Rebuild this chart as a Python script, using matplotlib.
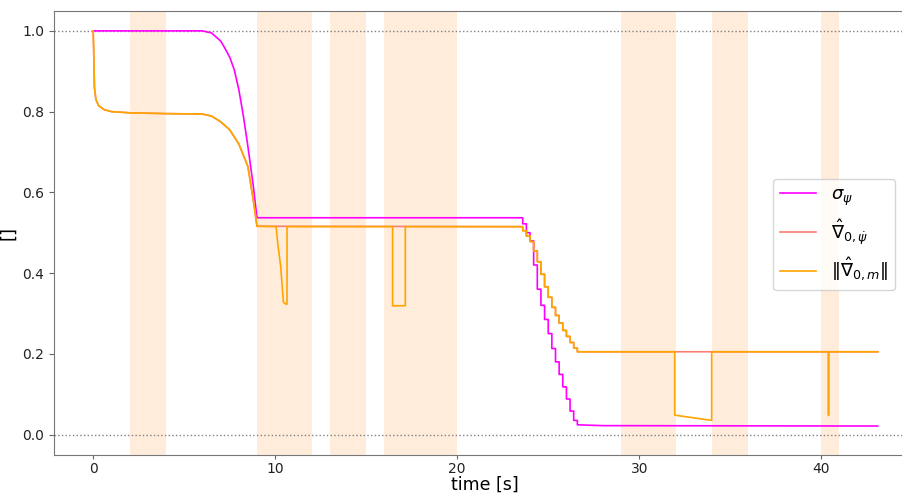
import numpy as np
import matplotlib

matplotlib.use("Agg")
import matplotlib.pyplot as plt

# shaded time windows [s]
spans = [(2, 4), (9, 12), (13, 15), (16, 20), (29, 32), (34, 36), (40, 41)]

# sigma_psi
sig_t = [0.0, 6.0, 6.5, 7.0, 7.2, 7.5, 7.75, 8.0, 8.25, 8.5, 8.8, 9.0, 23.4]
sig_y = [1.0, 1.0, 0.995, 0.975, 0.96, 0.935, 0.904, 0.855, 0.79, 0.714, 0.615, 0.537, 0.537]
# staircase descent, sampled at the step edges
sig_desc_t = [23.4, 23.6, 23.8, 24.0, 24.2, 24.4, 24.6, 24.8, 25.0, 25.2,
              25.4, 25.6, 25.8, 26.0, 26.2, 26.4, 26.6]
sig_desc_y = [0.537, 0.522, 0.50, 0.48, 0.42, 0.36, 0.32, 0.285, 0.25, 0.213,
              0.18, 0.149, 0.118, 0.088, 0.058, 0.035, 0.024]
sig_tail_t = [28.0, 43.1]
sig_tail_y = [0.022, 0.021]

# gradient norm (orange) start
nrm_t = [0.0, 0.03, 0.07, 0.15, 0.3, 0.6, 1.0, 2.0, 4.0, 6.0, 6.5, 7.0,
         7.5, 8.0, 8.5, 8.8, 9.0]
nrm_y = [1.0, 0.95, 0.86, 0.83, 0.815, 0.805, 0.80, 0.797, 0.795, 0.794,
         0.789, 0.775, 0.755, 0.72, 0.664, 0.58, 0.516]
dip1_t = [10.05, 10.15, 10.3, 10.45, 10.6, 10.65, 10.65]
dip1_y = [0.515, 0.47, 0.418, 0.328, 0.323, 0.323, 0.515]
dip2_t = [16.45, 16.45, 17.15, 17.15]
dip2_y = [0.515, 0.319, 0.319, 0.515]
nrm_desc_t = [23.4, 23.6, 23.8, 24.0, 24.2, 24.4, 24.6, 24.8, 25.0, 25.2,
              25.4, 25.6, 25.8, 26.0, 26.2, 26.4, 26.6]
nrm_desc_y = [0.515, 0.505, 0.492, 0.478, 0.455, 0.428, 0.397, 0.366, 0.34, 0.315,
              0.295, 0.276, 0.258, 0.243, 0.228, 0.214, 0.205]
plateau2 = 0.205
dip3_t = [31.95, 31.95, 33.98, 33.98]
dip3_y = [0.205, 0.048, 0.035, 0.205]
dip4_t = [40.38, 40.4, 40.42]
dip4_y = [0.205, 0.047, 0.205]
end_t = 43.1


def stairs(t, y):
    xs, ys = [t[0]], [y[0]]
    for i in range(1, len(t)):
        xs += [t[i], t[i]]
        ys += [y[i - 1], y[i]]
    return xs, ys


sd_t, sd_y = stairs(sig_desc_t, sig_desc_y)
sig_T = sig_t + sd_t + sig_tail_t
sig_Y = sig_y + sd_y + sig_tail_y

nd_t, nd_y = stairs(nrm_desc_t, nrm_desc_y)
# red gradient: same as the norm without the dips
red_T = nrm_t + nd_t + [end_t]
red_Y = nrm_y + nd_y + [plateau2]
org_T = nrm_t + dip1_t + dip2_t + nd_t + dip3_t + dip4_t + [end_t]
org_Y = nrm_y + dip1_y + dip2_y + nd_y + dip3_y + dip4_y + [plateau2]

fig = plt.figure(figsize=(9.02, 4.93), dpi=100)
# right edge of the axes lies beyond the picture (cropped original)
ax = fig.add_axes([0.0599, 0.0777, 0.9545, 0.9006])

for a, b in spans:
    ax.axvspan(a, b, color="peachpuff", alpha=0.5, lw=0)

ax.axhline(1.0, color="gray", ls=":", lw=1)
ax.axhline(0.0, color="gray", ls=":", lw=1)

ax.plot(sig_T, sig_Y, color="magenta", lw=1.2, label=r"$\sigma_\psi$")
ax.plot(red_T, red_Y, color="salmon", lw=1.2, label=r"$\hat{\nabla}_{0,\dot{\psi}}$")
ax.plot(org_T, org_Y, color="orange", lw=1.2, label=r"$\Vert\hat{\nabla}_{0,m}\Vert$")

ax.set_xlim(-2.15, 45.15)
ax.set_ylim(-0.05, 1.05)
ax.set_xticks([0, 10, 20, 30, 40])
ax.set_yticks([0.0, 0.2, 0.4, 0.6, 0.8, 1.0])
ax.tick_params(labelsize=10, colors="#666666", labelcolor="#222222")
ax.tick_params(axis="x", length=3, pad=2)
for s in ax.spines.values():
    s.set_color("#777777")
ax.set_xlabel("time [s]", fontsize=12.5, labelpad=0)
ax.set_ylabel("[]", fontsize=13)
ax.legend(loc="center right", fontsize=13, borderaxespad=0,
          bbox_to_anchor=(895 / 902, 1 - 234.5 / 493), bbox_transform=fig.transFigure)

plt.savefig("out.png", dpi=100)
